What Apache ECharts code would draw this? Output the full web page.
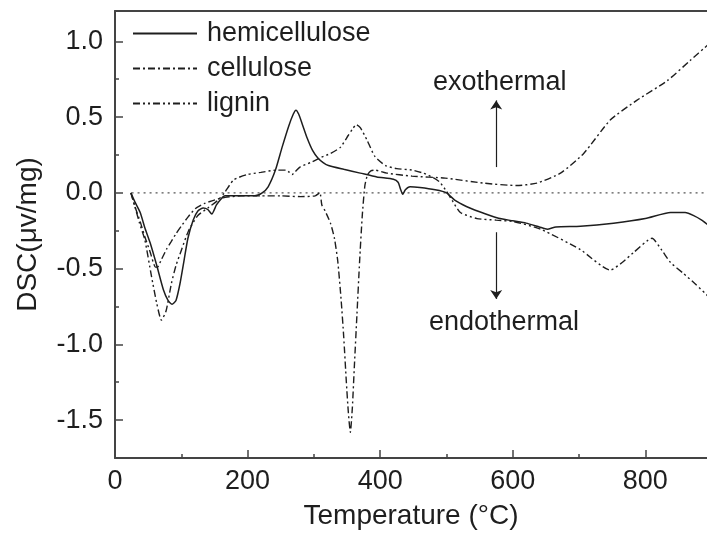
<!DOCTYPE html>
<html>
<head>
<meta charset="utf-8">
<title>DSC curves</title>
<script src="https://cdn.jsdelivr.net/npm/echarts@6/dist/echarts.min.js"></script>
<style>
  html, body { margin: 0; padding: 0; background: #fff; }
  #chart { width: 707px; height: 535px; }
</style>
</head>
<body>
<div id="chart"></div>
<script>
// temperatures (°C) and DSC signal (μv/mg)
var hemiT = [24, 30, 38, 45, 53, 63, 73, 80, 86, 92, 98, 104, 110, 118, 125, 133, 140, 146, 153, 160, 166, 185, 211, 222, 231, 242, 252, 262, 269, 273, 277, 282, 290, 298, 306, 314, 322, 345, 370, 395, 420, 427, 431, 434, 438, 445, 460, 483, 500, 513, 530, 550, 576, 600, 620, 640, 652, 665, 702, 752, 800, 838, 860, 873, 885, 894]
var hemiV = [0, -0.06, -0.13, -0.23, -0.33, -0.48, -0.64, -0.71, -0.735, -0.71, -0.6, -0.45, -0.3, -0.18, -0.12, -0.10, -0.11, -0.14, -0.08, -0.04, -0.02, -0.02, -0.02, 0.0, 0.04, 0.15, 0.30, 0.44, 0.52, 0.545, 0.52, 0.46, 0.36, 0.28, 0.23, 0.20, 0.18, 0.155, 0.13, 0.105, 0.09, 0.07, 0.02, -0.01, 0.02, 0.04, 0.035, 0.02, 0.0, -0.05, -0.09, -0.125, -0.165, -0.185, -0.20, -0.225, -0.24, -0.225, -0.22, -0.20, -0.17, -0.13, -0.13, -0.15, -0.18, -0.21]

var celT = [24, 30, 38, 45, 53, 61, 64, 70, 78, 85, 92, 100, 110, 121, 135, 151, 166, 190, 220, 250, 280, 302, 309, 312, 317, 325, 331, 336, 341, 345, 349, 352, 355, 358, 361, 365, 369, 373, 377, 381, 386, 392, 410, 448, 498, 556, 606, 636, 672, 707, 747, 787, 833, 868, 894]
var celV = [0, -0.09, -0.19, -0.29, -0.39, -0.49, -0.49, -0.44, -0.37, -0.32, -0.27, -0.22, -0.16, -0.105, -0.07, -0.046, -0.03, -0.02, -0.02, -0.02, -0.025, -0.02, 0.0, -0.08, -0.12, -0.2, -0.3, -0.45, -0.7, -0.95, -1.25, -1.45, -1.58, -1.42, -1.15, -0.8, -0.45, -0.15, 0.05, 0.12, 0.145, 0.15, 0.13, 0.11, 0.097, 0.064, 0.048, 0.064, 0.13, 0.26, 0.48, 0.61, 0.74, 0.875, 0.975]

var ligT = [24, 30, 37, 45, 55, 63, 70, 77, 85, 92, 100, 111, 125, 140, 155, 165, 179, 199, 220, 244, 258, 263, 267, 272, 279, 295, 309, 325, 340, 352, 358, 364, 370, 380, 392, 408, 425, 448, 465, 480, 490, 500, 510, 521, 546, 575, 601, 642, 702, 747, 765, 782, 810, 825, 838, 857, 875, 894]
var ligV = [0, -0.09, -0.2, -0.31, -0.55, -0.73, -0.84, -0.78, -0.6, -0.48, -0.38, -0.25, -0.15, -0.1, -0.05, 0.0, 0.085, 0.12, 0.135, 0.15, 0.15, 0.135, 0.12, 0.14, 0.17, 0.2, 0.23, 0.26, 0.3, 0.38, 0.42, 0.45, 0.43, 0.35, 0.24, 0.18, 0.16, 0.15, 0.13, 0.1, 0.07, 0.01, -0.06, -0.13, -0.17, -0.18, -0.19, -0.24, -0.375, -0.51, -0.46, -0.395, -0.3, -0.38, -0.46, -0.53, -0.6, -0.68]

var baseT = [25, 900]
var baseV = [0, 0]

var xTicks = [0, 200, 400, 600, 800]
var xMinorTicks = [100, 300, 500, 700]
var yTicks = [-1.5, -1.0, -0.5, 0.0, 0.5, 1.0]
var yMinorTicks = [-1.25, -0.75, -0.25, 0.25, 0.75]

var FONT = 'Liberation Sans, Arial, Helvetica, sans-serif'
var INK = '#1e1e1e'
var AXIS = '#444'

function zip (t, v) {
    return t.map(function (x, i) { return [x, v[i]] })
}

var chart = echarts.init(document.getElementById('chart'), null, { renderer: 'canvas' })

var xBase = { type: 'value', min: 0, max: 893, splitLine: { show: false } }
var yBase = { type: 'value', min: -1.75, max: 1.2, splitLine: { show: false } }

var option = {
    animation: false,
    backgroundColor: '#fff',
    textStyle: { fontFamily: FONT },
    grid: { left: 115, right: 0, top: 11, bottom: 75, containLabel: false },
    legend: {
        data: ['hemicellulose', 'cellulose', 'lignin'],
        orient: 'vertical',
        left: 132,
        top: 20,
        padding: 0,
        itemWidth: 64,
        itemHeight: 14,
        itemGap: 8,
        itemStyle: { opacity: 0 },
        textStyle: { fontSize: 27, color: INK, fontFamily: FONT, lineHeight: 27, padding: [0, 0, 0, 5] }
    },
    xAxis: [
        Object.assign({}, xBase, {
            position: 'bottom',
            name: 'Temperature (°C)',
            nameLocation: 'middle',
            nameGap: 44,
            nameTextStyle: { fontSize: 28, color: INK, fontFamily: FONT },
            axisLine: { show: true, onZero: false, lineStyle: { color: AXIS, width: 2 } },
            axisTick: { show: true, inside: true, length: 8, customValues: xTicks, lineStyle: { color: AXIS, width: 1.5 } },
            axisLabel: { show: true, customValues: xTicks, margin: 10, fontSize: 27, color: INK, fontFamily: FONT }
        }),
        Object.assign({}, xBase, {
            position: 'bottom',
            axisLine: { show: false, onZero: false },
            axisTick: { show: true, inside: true, length: 4, customValues: xMinorTicks, lineStyle: { color: AXIS, width: 1.5 } },
            axisLabel: { show: false }
        }),
        Object.assign({}, xBase, {
            position: 'top',
            axisLine: { show: true, onZero: false, lineStyle: { color: AXIS, width: 2 } },
            axisTick: { show: false },
            axisLabel: { show: false }
        })
    ],
    yAxis: [
        Object.assign({}, yBase, {
            position: 'left',
            name: 'DSC(μv/mg)',
            nameLocation: 'middle',
            nameGap: 73,
            nameTextStyle: { fontSize: 28, color: INK, fontFamily: FONT },
            axisLine: { show: true, onZero: false, lineStyle: { color: AXIS, width: 2 } },
            axisTick: { show: true, inside: true, length: 8, customValues: yTicks, lineStyle: { color: AXIS, width: 1.5 } },
            axisLabel: {
                show: true, customValues: yTicks, margin: 12, fontSize: 27, color: INK, fontFamily: FONT,
                formatter: function (v) { return v.toFixed(1) }
            }
        }),
        Object.assign({}, yBase, {
            position: 'left',
            axisLine: { show: false, onZero: false },
            axisTick: { show: true, inside: true, length: 4, customValues: yMinorTicks, lineStyle: { color: AXIS, width: 1.5 } },
            axisLabel: { show: false }
        })
    ],
    series: [
        {
            name: 'baseline',
            type: 'line',
            data: zip(baseT, baseV),
            symbol: 'none',
            silent: true,
            lineStyle: { color: '#555', width: 1.2, type: [2, 4] },
            markLine: {
                silent: true,
                symbol: ['none', 'arrow'],
                symbolSize: 9,
                label: { show: false },
                lineStyle: { color: INK, width: 1.2, type: 'solid' },
                data: [
                    [{ coord: [575, 0.17] }, { coord: [575, 0.61] }],
                    [{ coord: [575, -0.26] }, { coord: [575, -0.70] }]
                ]
            }
        },
        {
            name: 'hemicellulose',
            type: 'line',
            data: zip(hemiT, hemiV),
            symbol: 'none',
            smooth: 0.2,
            itemStyle: { color: INK },
            lineStyle: { color: INK, width: 1.5, type: 'solid' }
        },
        {
            name: 'cellulose',
            type: 'line',
            data: zip(celT, celV),
            symbol: 'none',
            smooth: 0.2,
            itemStyle: { color: INK },
            lineStyle: { color: INK, width: 1.4, type: [7, 3, 2, 3] }
        },
        {
            name: 'lignin',
            type: 'line',
            data: zip(ligT, ligV),
            symbol: 'none',
            smooth: 0.2,
            itemStyle: { color: INK },
            lineStyle: { color: INK, width: 1.4, type: [7, 3, 2, 3, 2, 3] }
        }
    ],
    graphic: [
        {
            type: 'text', left: 433, top: 69,
            style: { text: 'exothermal', fontSize: 27, fontFamily: FONT, fill: INK }
        },
        {
            type: 'text', left: 429, top: 309,
            style: { text: 'endothermal', fontSize: 27, fontFamily: FONT, fill: INK }
        }
    ]
}

chart.setOption(option)
</script>
</body>
</html>
